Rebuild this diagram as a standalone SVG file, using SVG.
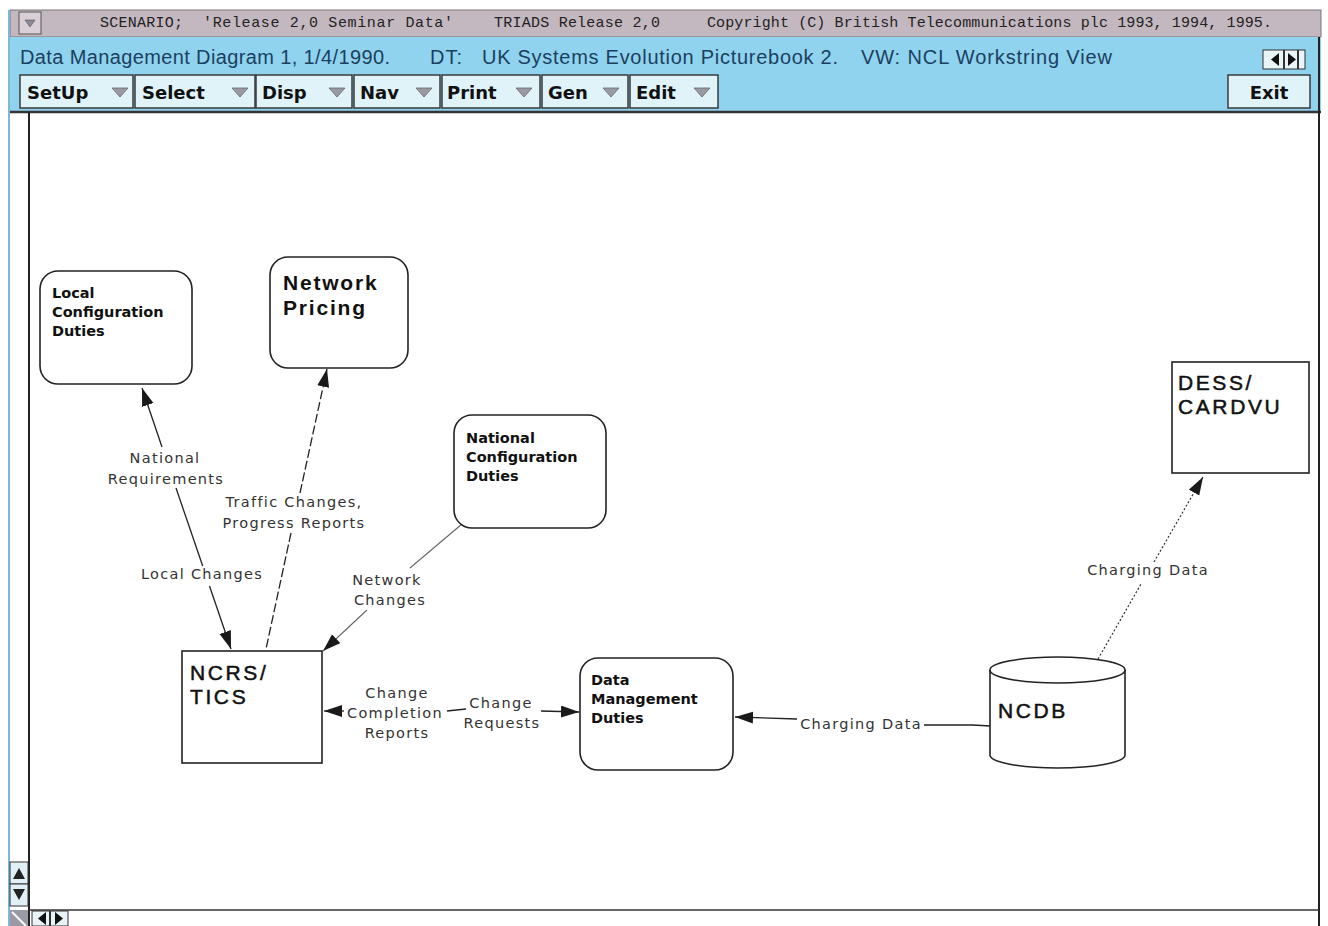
<svg xmlns="http://www.w3.org/2000/svg" width="1328" height="926" viewBox="0 0 1328 926">
  <style>
    .bar { font-family: "Liberation Mono", "DejaVu Sans Mono", monospace; font-size: 15px; fill: #222; }
    .hdr { font-family: "Liberation Sans", Arial, sans-serif; font-size: 20px; fill: #1c3f5e; }
    .btn { fill: #e0f3f9; stroke: #3a3a3a; stroke-width: 1.5; }
    .btxt { font-family: "DejaVu Sans", "Liberation Sans", sans-serif; font-weight: bold; font-size: 18px; fill: #111; }
    .tri { fill: #9a9aa4; stroke: #666; stroke-width: 0.8; }
    .node { fill: #fff; stroke: #222; stroke-width: 1.6; }
    .small { font-family: "DejaVu Sans", "Liberation Sans", sans-serif; font-weight: bold; font-size: 14.5px; fill: #111; }
    .big { font-family: "Liberation Sans", Arial, sans-serif; font-weight: bold; font-size: 21px; letter-spacing: 1.8px; fill: #111; }
    .mid { font-family: "Liberation Sans", Arial, sans-serif; font-size: 21px; letter-spacing: 2.6px; fill: #111; stroke: #111; stroke-width: 0.5; }
    .lbl { font-family: "DejaVu Sans", "Liberation Sans", sans-serif; font-size: 14.5px; fill: #333; letter-spacing: 1.3px; text-anchor: middle; }
    .ln { fill: none; stroke: #222; stroke-width: 1.3; }
    .lg { fill: none; stroke: #666; stroke-width: 1.1; }
    .dash { fill: none; stroke: #222; stroke-width: 1.3; stroke-dasharray: 9 3; }
    .dot { fill: none; stroke: #333; stroke-width: 1.2; stroke-dasharray: 2 2; }
  </style>
  <defs>
    <marker id="arrow" markerUnits="userSpaceOnUse" markerWidth="20" markerHeight="14" refX="18" refY="6" orient="auto-start-reverse">
      <path d="M0,0 L18,6 L0,12 z" fill="#1a1a1a"/>
    </marker>
  </defs>

  <rect width="1328" height="926" fill="#ffffff"/>

  <!-- window chrome -->
  <g id="chrome">
    <rect x="10" y="10" width="1311" height="27" fill="#c4b8c0" stroke="#777" stroke-width="1"/>
    <rect x="19" y="12" width="22" height="22" fill="#d8d0d6" stroke="#555" stroke-width="1"/>
    <path d="M25,20 L35,20 L30,27 z" fill="#8a8a98" stroke="#555" stroke-width="0.6"/>
    <text class="bar" x="100" y="27" textLength="83" lengthAdjust="spacing">SCENARIO;</text>
    <text class="bar" x="203" y="27" textLength="250" lengthAdjust="spacing">'Release 2,0 Seminar Data'</text>
    <text class="bar" x="494" y="27" textLength="166" lengthAdjust="spacing">TRIADS Release 2,0</text>
    <text class="bar" x="707" y="27" textLength="565" lengthAdjust="spacing">Copyright (C) British Telecommunications plc 1993, 1994, 1995.</text>

    <rect x="10" y="37" width="1311" height="75" fill="#8fd3ef"/>
    <text class="hdr" x="20" y="64" textLength="370" lengthAdjust="spacing">Data Management Diagram 1, 1/4/1990.</text>
    <text class="hdr" x="430" y="64" textLength="32" lengthAdjust="spacing">DT:</text>
    <text class="hdr" x="482" y="64" textLength="356" lengthAdjust="spacing">UK Systems Evolution Picturebook 2.</text>
    <text class="hdr" x="861" y="64" textLength="251" lengthAdjust="spacing">VW: NCL Workstring View</text>

    <!-- horizontal page arrows -->
    <rect x="1263" y="50" width="42" height="19" fill="#e8f4f8" stroke="#333" stroke-width="1"/>
    <line x1="1284" y1="50" x2="1284" y2="69" stroke="#333" stroke-width="2"/>
    <line x1="1298" y1="50" x2="1298" y2="69" stroke="#333" stroke-width="2"/>
    <path d="M1271,59.5 L1279,53 L1279,66 z" fill="#111"/>
    <path d="M1296,59.5 L1288,53 L1288,66 z" fill="#111"/>

    <!-- menu buttons -->
    <g>
      <rect class="btn" x="20" y="75" width="113" height="33"/>
      <text class="btxt" x="27" y="99">SetUp</text>
      <path class="tri" d="M112,88 L128,88 L120,97 z"/>
      <rect class="btn" x="135" y="75" width="120" height="33"/>
      <text class="btxt" x="142" y="99">Select</text>
      <path class="tri" d="M232,88 L248,88 L240,97 z"/>
      <rect class="btn" x="256" y="75" width="96" height="33"/>
      <text class="btxt" x="262" y="99">Disp</text>
      <path class="tri" d="M329,88 L345,88 L337,97 z"/>
      <rect class="btn" x="354" y="75" width="86" height="33"/>
      <text class="btxt" x="360" y="99">Nav</text>
      <path class="tri" d="M416,88 L432,88 L424,97 z"/>
      <rect class="btn" x="442" y="75" width="98" height="33"/>
      <text class="btxt" x="447" y="99">Print</text>
      <path class="tri" d="M516,88 L532,88 L524,97 z"/>
      <rect class="btn" x="542" y="75" width="86" height="33"/>
      <text class="btxt" x="548" y="99">Gen</text>
      <path class="tri" d="M603,88 L619,88 L611,97 z"/>
      <rect class="btn" x="630" y="75" width="88" height="33"/>
      <text class="btxt" x="636" y="99">Edit</text>
      <path class="tri" d="M694,88 L710,88 L702,97 z"/>
      <rect class="btn" x="1228" y="75" width="82" height="33"/>
      <text class="btxt" x="1269" y="99" text-anchor="middle">Exit</text>
    </g>

    <line x1="10" y1="112" x2="1321" y2="112" stroke="#333" stroke-width="2.5"/>
    <!-- canvas borders and scroll bars -->
    <line x1="9" y1="10" x2="9" y2="926" stroke="#7fb8d6" stroke-width="2"/>
    <line x1="29" y1="112" x2="29" y2="926" stroke="#222" stroke-width="2"/>
    <line x1="1319" y1="37" x2="1319" y2="926" stroke="#222" stroke-width="2"/>
    <line x1="29" y1="910" x2="1319" y2="910" stroke="#333" stroke-width="1.5"/>
    <rect x="10" y="862" width="18" height="22" fill="#e0f0f6" stroke="#333" stroke-width="1"/>
    <path d="M13,879 L19,868 L25,879 z" fill="#222"/>
    <rect x="10" y="884" width="18" height="22" fill="#e0f0f6" stroke="#333" stroke-width="1"/>
    <path d="M13,889 L25,889 L19,900 z" fill="#222"/>
    <rect x="10" y="910" width="18" height="16" fill="#9a9aa4"/>
    <line x1="12" y1="912" x2="26" y2="926" stroke="#fff" stroke-width="2"/>
    <rect x="32" y="911" width="36" height="15" fill="#e8f4f8" stroke="#333" stroke-width="1"/>
    <line x1="50" y1="911" x2="50" y2="926" stroke="#333" stroke-width="2"/>
    <path d="M38,918.5 L46,912 L46,925 z" fill="#111"/>
    <path d="M63,918.5 L55,912 L55,925 z" fill="#111"/>
  </g>

  <!-- connectors -->
  <g id="connectors">
    <!-- Local Changes / National Requirements -->
    <path class="ln" d="M162,447 L142,388" marker-end="url(#arrow)"/>
    <path class="ln" d="M176,488 L202.7,566"/>
    <path class="ln" d="M209.5,586 L231,649" marker-end="url(#arrow)"/>
    <!-- Traffic Changes, Progress Reports -->
    <path class="dash" d="M291,533 L266,649"/>
    <path class="dash" d="M300,493 L327,369" marker-end="url(#arrow)"/>
    <!-- Network Changes -->
    <path class="lg" d="M462,524 L410,568"/>
    <path class="lg" d="M367,610 L323,651" marker-end="url(#arrow)"/>
    <!-- Change Completion Reports / Change Requests -->
    <path class="ln" d="M344,711 L324,711" marker-end="url(#arrow)"/>
    <path class="ln" d="M447,711 L466,709"/>
    <path class="ln" d="M541,711 L579,712" marker-end="url(#arrow)"/>
    <!-- Charging Data to Data Management Duties -->
    <path class="ln" d="M797,719 L735,717" marker-end="url(#arrow)"/>
    <path class="ln" d="M924,725 L973,725 L990,726"/>
    <!-- Charging Data to DESS/CARDVU -->
    <path class="dot" d="M1098,659 L1141,584"/>
    <path class="dot" d="M1154,562 L1203,477" marker-end="url(#arrow)"/>

    <text class="lbl" x="165" y="463">National</text>
    <text class="lbl" x="166" y="484">Requirements</text>
    <text class="lbl" x="202" y="579">Local Changes</text>
    <text class="lbl" x="294" y="507">Traffic Changes,</text>
    <text class="lbl" x="294" y="528">Progress Reports</text>
    <text class="lbl" x="387" y="585">Network</text>
    <text class="lbl" x="390" y="605">Changes</text>
    <text class="lbl" x="397" y="698">Change</text>
    <text class="lbl" x="395" y="718">Completion</text>
    <text class="lbl" x="397" y="738">Reports</text>
    <text class="lbl" x="501" y="708">Change</text>
    <text class="lbl" x="502" y="728">Requests</text>
    <text class="lbl" x="861" y="729">Charging Data</text>
    <text class="lbl" x="1148" y="575">Charging Data</text>
  </g>

  <!-- nodes -->
  <g id="local-configuration-duties">
    <rect class="node" x="40" y="271" width="152" height="113" rx="18"/>
    <text class="small" x="52" y="298">Local</text>
    <text class="small" x="52" y="317">Configuration</text>
    <text class="small" x="52" y="336">Duties</text>
  </g>
  <g id="network-pricing">
    <rect class="node" x="270" y="257" width="138" height="111" rx="18"/>
    <text class="big" x="283" y="290">Network</text>
    <text class="big" x="283" y="315">Pricing</text>
  </g>
  <g id="national-configuration-duties">
    <rect class="node" x="454" y="415" width="152" height="113" rx="18"/>
    <text class="small" x="466" y="443">National</text>
    <text class="small" x="466" y="462">Configuration</text>
    <text class="small" x="466" y="481">Duties</text>
  </g>
  <g id="ncrs-tics">
    <rect class="node" x="182" y="651" width="140" height="112"/>
    <text class="mid" x="190" y="680">NCRS/</text>
    <text class="mid" x="190" y="704">TICS</text>
  </g>
  <g id="data-management-duties">
    <rect class="node" x="580" y="658" width="153" height="112" rx="18"/>
    <text class="small" x="591" y="685">Data</text>
    <text class="small" x="591" y="704">Management</text>
    <text class="small" x="591" y="723">Duties</text>
  </g>
  <g id="ncdb">
    <path class="node" d="M990,670 L990,755 A67.5,13 0 0 0 1125,755 L1125,670"/>
    <ellipse class="node" cx="1057.5" cy="670" rx="67.5" ry="13"/>
    <text class="mid" x="998" y="718">NCDB</text>
  </g>
  <g id="dess-cardvu">
    <rect class="node" x="1172" y="362" width="137" height="111"/>
    <text class="mid" x="1178" y="390">DESS/</text>
    <text class="mid" x="1178" y="414">CARDVU</text>
  </g>
</svg>
